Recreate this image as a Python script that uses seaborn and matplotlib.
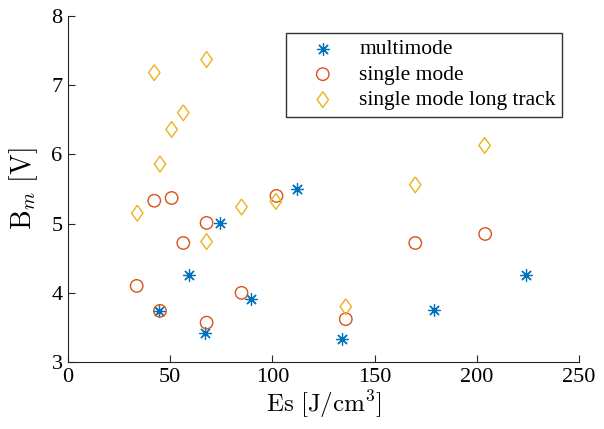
import pandas as pd
import seaborn as sns
from matplotlib import pyplot as plt

# values
multi_es = [44.5, 59.3, 74.3, 67.0, 89.3, 111.8, 134.2, 178.9, 224.2]
multi_bm = [3.74, 4.26, 5.01, 3.42, 3.91, 5.50, 3.33, 3.75, 4.26]

single_es = [33.6, 42.2, 50.7, 56.4, 67.8, 45.0, 67.8, 84.9, 102.0, 135.9, 169.9, 204.1]
single_bm = [4.10, 5.33, 5.37, 4.72, 5.01, 3.74, 3.57, 4.00, 5.40, 3.62, 4.72, 4.85]

long_es = [33.9, 67.8, 84.9, 101.7, 42.2, 67.8, 56.4, 50.7, 45.0, 203.8, 169.9, 135.9]
long_bm = [5.15, 4.74, 5.24, 5.32, 7.18, 7.37, 6.60, 6.36, 5.86, 6.13, 5.56, 3.80]

labels = ["multimode", "single mode", "single mode long track"]
x_ticks = [0, 50, 100, 150, 200, 250]
y_ticks = [3, 4, 5, 6, 7, 8]

multi = pd.DataFrame({"Es": multi_es, "Bm": multi_bm})
single = pd.DataFrame({"Es": single_es, "Bm": single_bm})
long_track = pd.DataFrame({"Es": long_es, "Bm": long_bm})

sns.set_style("ticks")
plt.rcParams["font.family"] = ["Liberation Serif", "DejaVu Serif"]
plt.rcParams["mathtext.fontset"] = "cm"
plt.rcParams["xtick.direction"] = "in"
plt.rcParams["ytick.direction"] = "in"
plt.rcParams["text.color"] = "black"
plt.rcParams["axes.labelcolor"] = "black"

# matlab-ish wide diamond
diamond = [(0, 1), (0.72, 0), (0, -1), (-0.72, 0), (0, 1)]

fig = plt.figure(figsize=(6.04, 4.29), dpi=100)
ax = fig.add_axes([0.1126, 0.156, 0.846, 0.807])

sns.scatterplot(data=multi, x="Es", y="Bm", ax=ax, marker=(8, 2, 0), s=75,
                color="#0072BD", linewidth=0.9, label=labels[0])
sns.scatterplot(data=single, x="Es", y="Bm", ax=ax, marker="o", s=80,
                facecolors="none", edgecolor="#D95319", linewidth=1.0, label=labels[1])
sns.scatterplot(data=long_track, x="Es", y="Bm", ax=ax, marker=diamond, s=130,
                facecolors="none", edgecolor="#EDB120", linewidth=1.0, label=labels[2])

ax.set_xlim(0, 250)
ax.set_ylim(3, 8)
ax.set_xticks(x_ticks)
ax.set_yticks(y_ticks)
ax.tick_params(labelsize=16, length=5, width=0.8, colors="#262626", labelcolor="black", pad=4)
for s in ["top", "right"]:
    ax.spines[s].set_visible(False)
for s in ["left", "bottom"]:
    ax.spines[s].set_color("#262626")
    ax.spines[s].set_linewidth(0.8)

ax.set_xlabel(r"$\mathrm{Es}\ [\mathrm{J/cm}^3]$", fontsize=18, labelpad=1)
ax.set_ylabel(r"$\mathrm{B}_m\ [\mathrm{V}]$", fontsize=20, labelpad=8)

leg = ax.legend(loc="upper left", bbox_to_anchor=(0.427, 0.951), fontsize=15.5,
                frameon=True, fancybox=False, edgecolor="black", borderaxespad=0,
                handlelength=2.8, handletextpad=0.3, borderpad=0.3, labelspacing=0.25)
leg.get_frame().set_linewidth(1.0)

fig.savefig("out.png", dpi=100)
